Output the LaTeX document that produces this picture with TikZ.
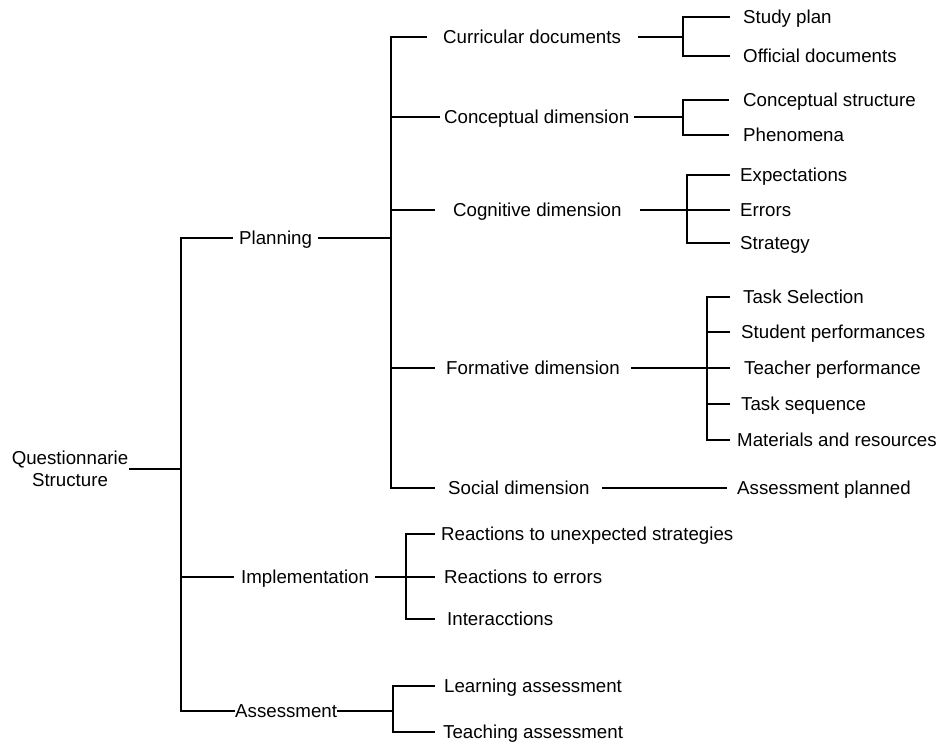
\documentclass[tikz,border=0pt]{standalone}
\usepackage{fontspec}
\setmainfont{Liberation Sans}
\begin{document}
\begin{tikzpicture}[x=1pt,y=-1pt,
  txt/.style={font=\fontsize{18.7}{22}\selectfont},
  lbl/.style={txt,anchor=west,inner sep=0pt,text height=13.4pt,text depth=0pt},
  link/.style={line width=2pt,line join=miter},
  heavy/.style={line width=2.9pt}]
\useasboundingbox (0,0) rectangle (938,742);

% ---- labels ----
\node[txt,align=center,inner sep=0pt] (root) at (70,469) {Questionnarie\\Structure};

\node[lbl] (plan) at (239,238) {Planning};
\node[lbl] (impl) at (241,577) {Implementation};
\node[lbl] (asmt) at (235,711) {Assessment};

\node[lbl] (cur)  at (443,37)  {Curricular documents};
\node[lbl] (con)  at (444,117) {Conceptual dimension};
\node[lbl] (cog)  at (453,210) {Cognitive dimension};
\node[lbl] (form) at (446,368) {Formative dimension};
\node[lbl] (soc)  at (448,488) {Social dimension};

\node[lbl] (sp)   at (743,17)  {Study plan};
\node[lbl] (od)   at (743,56)  {Official documents};
\node[lbl] (cs)   at (743,100) {Conceptual structure};
\node[lbl] (ph)   at (743,135) {Phenomena};
\node[lbl] (ex)   at (740,175) {Expectations};
\node[lbl] (er)   at (740,210) {Errors};
\node[lbl] (st)   at (740,243) {Strategy};
\node[lbl] (tsel) at (743,297) {Task Selection};
\node[lbl] (stp)  at (741,332) {Student performances};
\node[lbl] (tp)   at (744,368) {Teacher performance};
\node[lbl] (tsq)  at (741,404) {Task sequence};
\node[lbl] (mr)   at (737,440) {Materials and resources};
\node[lbl] (ap)   at (737,488) {Assessment planned};

\node[lbl] (r1)   at (441,534) {Reactions to unexpected strategies};
\node[lbl] (r2)   at (444,577) {Reactions to errors};
\node[lbl] (r3)   at (447,619) {Interacctions};
\node[lbl] (la)   at (444,686) {Learning assessment};
\node[lbl] (ta)   at (443,732) {Teaching assessment};

% ---- vertical bars (x positions) ----
\coordinate (b0) at (181,0);
\coordinate (b1) at (391,0);
\coordinate (b2) at (683,0);
\coordinate (b3) at (683,0);
\coordinate (b4) at (687,0);
\coordinate (b5) at (707,0);
\coordinate (b6) at (406,0);
\coordinate (b7) at (393,0);

% ---- root level ----
\draw[heavy] ([xshift=1pt]root.east) -- (b0 |- root);
\draw[link] ([xshift=-6pt]plan.west) -- (b0 |- plan) -- (b0 |- asmt) -- (asmt.west);
\draw[link] (b0 |- impl) -- ([xshift=-7pt]impl.west);

% ---- planning ----
\draw[heavy] ([xshift=6pt]plan.east) -- (b1 |- plan);
\draw[link] ([xshift=-16pt]cur.west) -- (b1 |- cur) -- (b1 |- soc) -- ([xshift=-13pt]soc.west);
\draw[line width=2.6pt] (b1 |- cur) -- (b1 |- plan);
\draw[link] (b1 |- con) -- ([xshift=-4pt]con.west);
\draw[link] (b1 |- cog) -- ([xshift=-18pt]cog.west);
\draw[link] (b1 |- form) -- ([xshift=-11pt]form.west);

% curricular documents
\draw[heavy] ([xshift=17pt]cur.east) -- (b2 |- cur);
\draw[link] ([xshift=-13pt]sp.west) -- (b2 |- sp) -- (b2 |- od) -- ([xshift=-13pt]od.west);

% conceptual dimension
\draw[heavy] ([xshift=5pt]con.east) -- (b3 |- con);
\draw[link] ([xshift=-14pt]cs.west) -- (b3 |- cs) -- (b3 |- ph) -- ([xshift=-14pt]ph.west);

% cognitive dimension
\draw[heavy] ([xshift=18pt]cog.east) -- (b4 |- cog);
\draw[link] ([xshift=-10pt]ex.west) -- (b4 |- ex) -- (b4 |- st) -- ([xshift=-10pt]st.west);
\draw[link] (b4 |- er) -- ([xshift=-10pt]er.west);

% formative dimension
\draw[heavy] ([xshift=11pt]form.east) -- (b5 |- form);
\draw[link] ([xshift=-13pt]tsel.west) -- (b5 |- tsel) -- (b5 |- mr) -- ([xshift=-7pt]mr.west);
\draw[link] (b5 |- stp) -- ([xshift=-11pt]stp.west);
\draw[link] (b5 |- tp) -- ([xshift=-14pt]tp.west);
\draw[link] (b5 |- tsq) -- ([xshift=-11pt]tsq.west);

% social dimension
\draw[link] ([xshift=12pt]soc.east) -- ([xshift=-10pt]ap.west);

% ---- implementation ----
\draw[link] ([xshift=6pt]impl.east) -- (b6 |- impl);
\draw[link] ([xshift=-6pt]r1.west) -- (b6 |- r1) -- (b6 |- r3) -- ([xshift=-12pt]r3.west);
\draw[link] (b6 |- r2) -- ([xshift=-9pt]r2.west);

% ---- assessment ----
\draw[link] (asmt.east) -- (b7 |- asmt);
\draw[link] ([xshift=-9pt]la.west) -- (b7 |- la) -- (b7 |- ta) -- ([xshift=-8pt]ta.west);
\end{tikzpicture}
\end{document}
